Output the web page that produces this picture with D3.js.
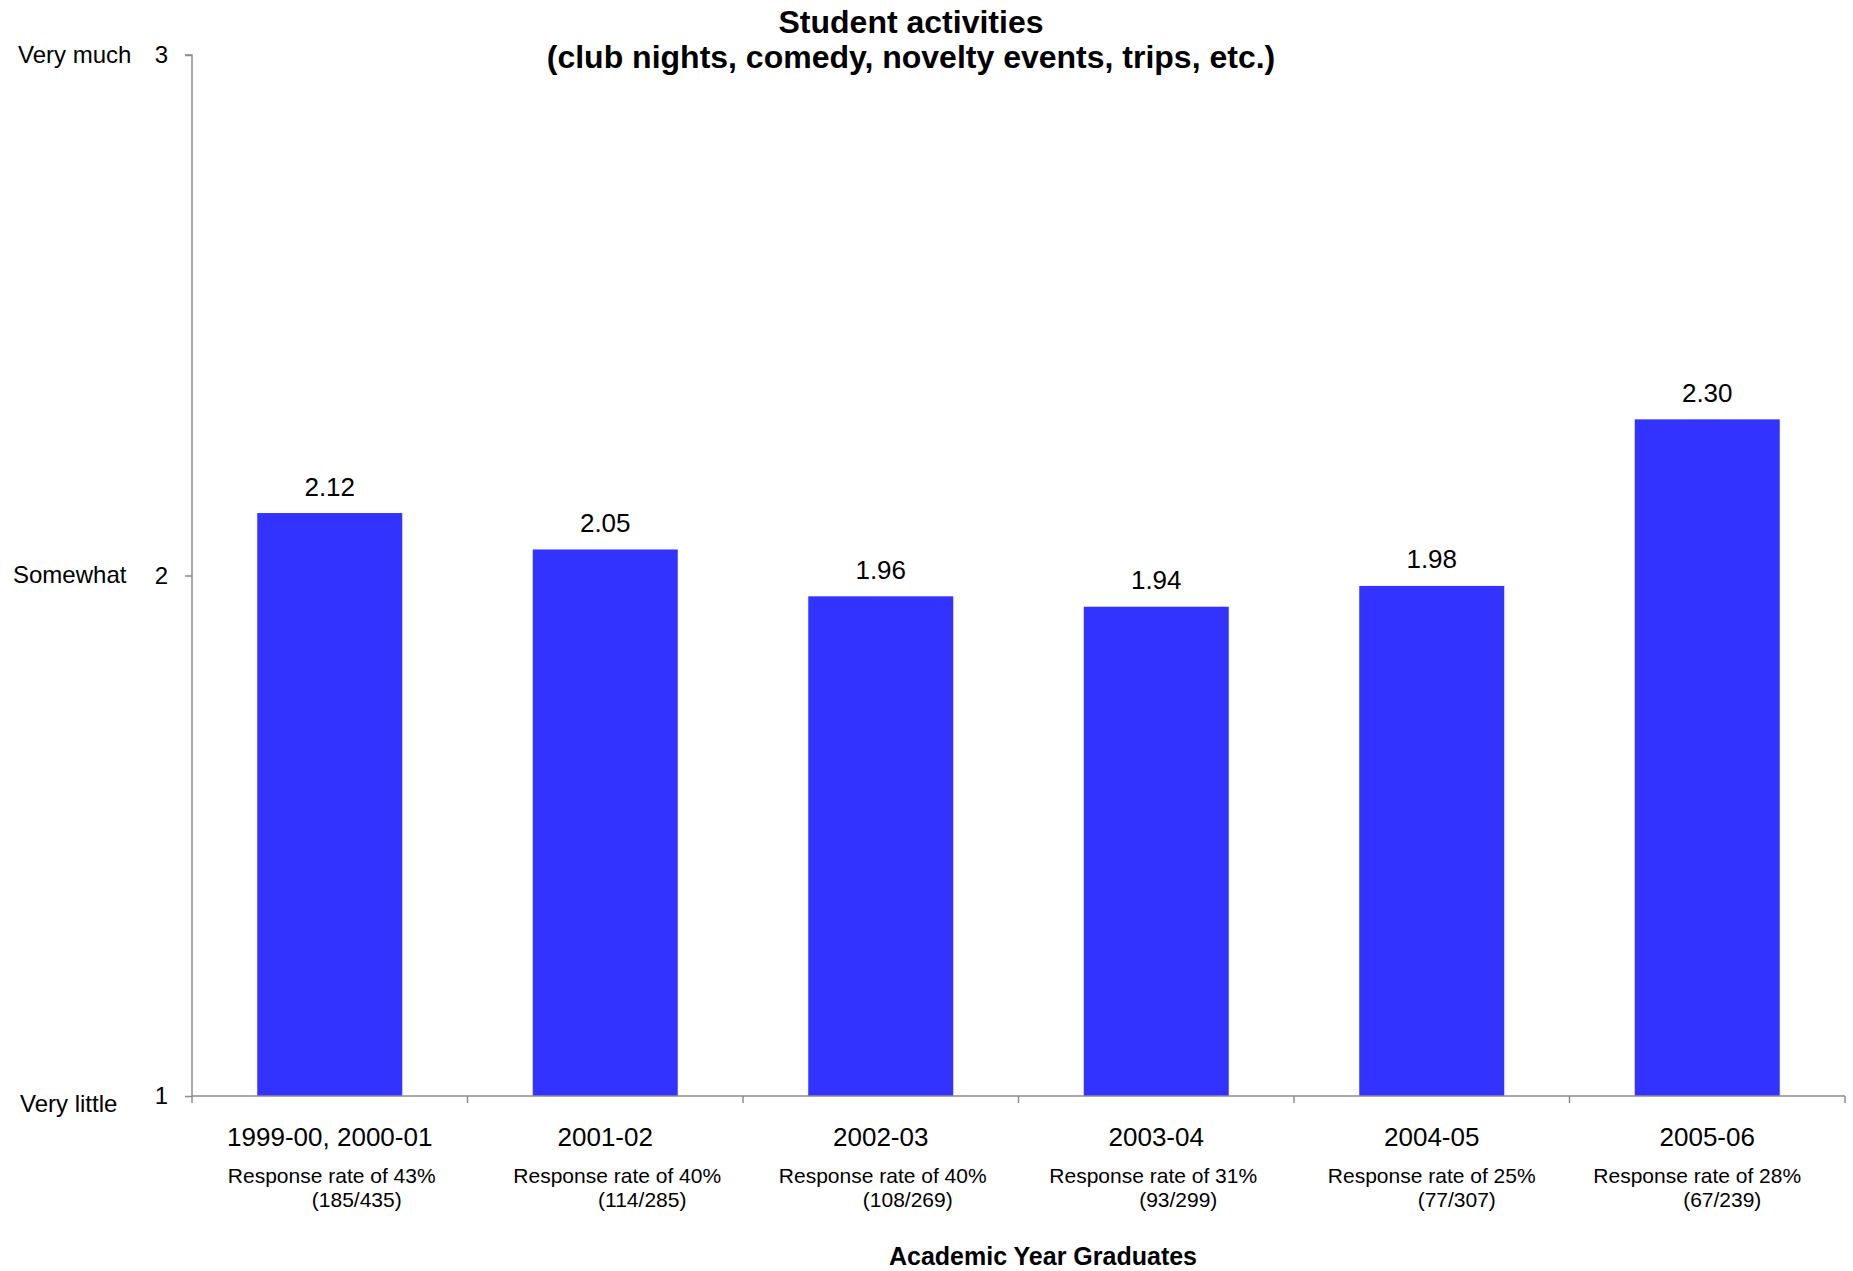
<!DOCTYPE html>
<html>
<head>
<meta charset="utf-8">
<script src="https://cdn.jsdelivr.net/npm/d3@7"></script>
<style>
  html, body { margin: 0; padding: 0; background: #fff; }
  svg { display: block; font-family: "Liberation Sans", Arial, sans-serif; }
</style>
</head>
<body>
<svg id="chart" width="1853" height="1271"></svg>
<script>
// ---- data ----
const categories = ["1999-00, 2000-01", "2001-02", "2002-03", "2003-04", "2004-05", "2005-06"];
const values = [2.12, 2.05, 1.96, 1.94, 1.98, 2.30];
const responseRates = ["Response rate of 43%", "Response rate of 40%", "Response rate of 40%",
                       "Response rate of 31%", "Response rate of 25%", "Response rate of 28%"];
const responseCounts = ["(185/435)", "(114/285)", "(108/269)", "(93/299)", "(77/307)", "(67/239)"];
const yTickValues = [1, 2, 3];
const yTickWords = ["Very little", "Somewhat", "Very much"];
const titleLines = ["Student activities", "(club nights, comedy, novelty events, trips, etc.)"];
const xAxisTitle = "Academic Year Graduates";

// ---- layout ----
const plotLeft = 192, plotRight = 1845, plotTop = 55, plotBottom = 1096;
const svg = d3.select("#chart");

const x = d3.scaleBand().domain(categories).range([plotLeft, plotRight])
  .paddingInner(0.9 / 1.9).paddingOuter(0.45 / 1.9);
const y = d3.scaleLinear().domain([1, 3]).range([plotBottom, plotTop]);

const axisColor = "#8c8c8c";

// bars
svg.append("g").selectAll("rect").data(values).join("rect")
  .attr("x", (d, i) => x(categories[i]))
  .attr("y", d => y(d))
  .attr("width", x.bandwidth())
  .attr("height", d => y(1) - y(d))
  .attr("fill", "#3333FF");

// value labels
svg.append("g").selectAll("text").data(values).join("text")
  .attr("x", (d, i) => x(categories[i]) + x.bandwidth() / 2)
  .attr("y", d => y(d) - 17.5)
  .attr("text-anchor", "middle")
  .attr("font-size", 26)
  .attr("fill", "#000")
  .text(d => d.toFixed(2));

// y axis
const yAxis = svg.append("g").attr("transform", `translate(${plotLeft},0)`)
  .call(d3.axisLeft(y).tickValues(yTickValues).tickFormat(d3.format("d")).tickSize(7).tickPadding(17));
yAxis.select(".domain").attr("stroke", axisColor).attr("stroke-width", 1.5).attr("d", `M-7,${plotTop}H0V${plotBottom}`);
yAxis.selectAll(".tick line").attr("stroke", axisColor).attr("stroke-width", 1.5);
yAxis.selectAll(".tick text").attr("font-size", 24).attr("fill", "#000")
  .attr("font-family", "Liberation Sans, Arial, sans-serif");

// y word labels
const wordX = [20, 13, 18];
const wordDy = [16, 7.5, 7.5];
svg.append("g").selectAll("text").data(yTickWords).join("text")
  .attr("x", (d, i) => wordX[i])
  .attr("y", (d, i) => y(yTickValues[i]) + wordDy[i])
  .attr("font-size", 24)
  .attr("fill", "#000")
  .text(d => d);

// x axis
const xAxis = svg.append("g").attr("transform", `translate(0,${plotBottom})`)
  .call(d3.axisBottom(x).tickSize(0).tickPadding(0).tickFormat(""));
xAxis.select(".domain").attr("stroke", axisColor).attr("stroke-width", 1.5)
  .attr("d", `M${plotLeft},0H${plotRight}`);
const step = x.step();
const boundaries = [plotLeft].concat(categories.map(c => x(c) - step * x.paddingOuter() + step));
xAxis.selectAll("line.bnd").data(boundaries).join("line").attr("class", "bnd")
  .attr("x1", d => d).attr("x2", d => d).attr("y1", 0).attr("y2", 7)
  .attr("stroke", axisColor).attr("stroke-width", 1.5);

// category labels
const rateDx = [2, 12, 2, -3, 0, -10];
const g = svg.append("g");
categories.forEach((c, i) => {
  const cx = x(c) + x.bandwidth() / 2;
  g.append("text").attr("x", cx).attr("y", plotBottom + 50)
    .attr("text-anchor", "middle").attr("font-size", 26).attr("fill", "#000").text(c);
  g.append("text").attr("x", cx + rateDx[i]).attr("y", plotBottom + 87)
    .attr("text-anchor", "middle").attr("font-size", 21).attr("fill", "#000").text(responseRates[i]);
  g.append("text").attr("x", cx + rateDx[i] + 25).attr("y", plotBottom + 111)
    .attr("text-anchor", "middle").attr("font-size", 21).attr("fill", "#000").text(responseCounts[i]);
});

// title
svg.append("g").selectAll("text").data(titleLines).join("text")
  .attr("x", 911)
  .attr("y", (d, i) => 33 + i * 35)
  .attr("text-anchor", "middle")
  .attr("font-size", 32)
  .attr("font-weight", "bold")
  .attr("fill", "#000")
  .text(d => d);

// x axis title
svg.append("text")
  .attr("x", 1043).attr("y", 1265)
  .attr("text-anchor", "middle")
  .attr("font-size", 25)
  .attr("font-weight", "bold")
  .attr("fill", "#000")
  .text(xAxisTitle);
</script>
</body>
</html>
